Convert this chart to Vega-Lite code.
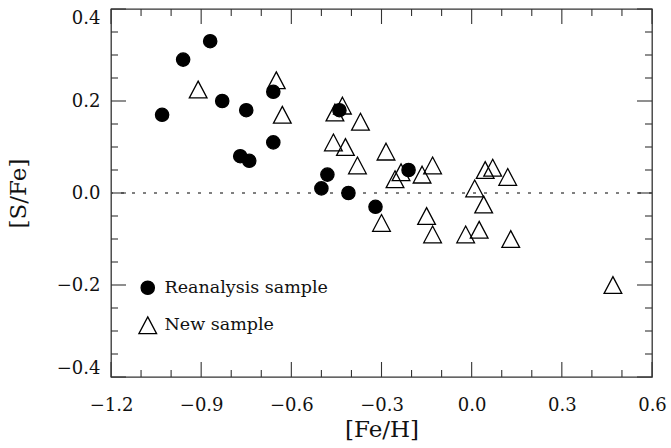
{
  "$schema": "https://vega.github.io/schema/vega-lite/v6.json",
  "width": 541,
  "height": 368,
  "autosize": "none",
  "padding": {"left": 111, "top": 9, "right": 19, "bottom": 71},
  "background": "white",
  "config": {
    "font": "DejaVu Serif",
    "view": {"stroke": "#333", "strokeWidth": 1.3},
    "axis": {
      "grid": false,
      "domain": false,
      "ticks": false,
      "tickSize": 0,
      "labelFont": "DejaVu Serif",
      "titleFont": "DejaVu Serif",
      "labelColor": "#111",
      "titleColor": "#111",
      "titleFontWeight": "normal",
      "labelFontSize": 18,
      "titleFontSize": 23
    },
    "legend": {
      "orient": "none",
      "legendX": 28,
      "legendY": 270,
      "padding": 0,
      "labelFont": "DejaVu Serif",
      "labelFontSize": 17.5,
      "labelColor": "#111",
      "labelLimit": 400,
      "symbolSize": 177,
      "symbolStrokeWidth": 1.3,
      "symbolStrokeColor": "black",
      "rowPadding": 15.5,
      "labelOffset": 8
    }
  },
  "datasets": {
    "pts": [
      {"feh": -0.91, "sfe": 0.225, "sample": "New sample"},
      {"feh": -0.65, "sfe": 0.245, "sample": "New sample"},
      {"feh": -0.63, "sfe": 0.17, "sample": "New sample"},
      {"feh": -0.43, "sfe": 0.19, "sample": "New sample"},
      {"feh": -0.455, "sfe": 0.175, "sample": "New sample"},
      {"feh": -0.37, "sfe": 0.155, "sample": "New sample"},
      {"feh": -0.46, "sfe": 0.11, "sample": "New sample"},
      {"feh": -0.42, "sfe": 0.1, "sample": "New sample"},
      {"feh": -0.38, "sfe": 0.06, "sample": "New sample"},
      {"feh": -0.285, "sfe": 0.09, "sample": "New sample"},
      {"feh": -0.235, "sfe": 0.045, "sample": "New sample"},
      {"feh": -0.255, "sfe": 0.03, "sample": "New sample"},
      {"feh": -0.13, "sfe": 0.06, "sample": "New sample"},
      {"feh": -0.165, "sfe": 0.04, "sample": "New sample"},
      {"feh": 0.045, "sfe": 0.05, "sample": "New sample"},
      {"feh": 0.07, "sfe": 0.055, "sample": "New sample"},
      {"feh": 0.12, "sfe": 0.035, "sample": "New sample"},
      {"feh": 0.01, "sfe": 0.01, "sample": "New sample"},
      {"feh": 0.04, "sfe": -0.025, "sample": "New sample"},
      {"feh": -0.3, "sfe": -0.065, "sample": "New sample"},
      {"feh": -0.15, "sfe": -0.05, "sample": "New sample"},
      {"feh": -0.13, "sfe": -0.09, "sample": "New sample"},
      {"feh": -0.02, "sfe": -0.09, "sample": "New sample"},
      {"feh": 0.025, "sfe": -0.08, "sample": "New sample"},
      {"feh": 0.13, "sfe": -0.1, "sample": "New sample"},
      {"feh": 0.47, "sfe": -0.2, "sample": "New sample"},
      {"feh": -0.87, "sfe": 0.33, "sample": "Reanalysis sample"},
      {"feh": -0.96, "sfe": 0.29, "sample": "Reanalysis sample"},
      {"feh": -1.03, "sfe": 0.17, "sample": "Reanalysis sample"},
      {"feh": -0.83, "sfe": 0.2, "sample": "Reanalysis sample"},
      {"feh": -0.75, "sfe": 0.18, "sample": "Reanalysis sample"},
      {"feh": -0.77, "sfe": 0.08, "sample": "Reanalysis sample"},
      {"feh": -0.74, "sfe": 0.07, "sample": "Reanalysis sample"},
      {"feh": -0.66, "sfe": 0.22, "sample": "Reanalysis sample"},
      {"feh": -0.66, "sfe": 0.11, "sample": "Reanalysis sample"},
      {"feh": -0.5, "sfe": 0.01, "sample": "Reanalysis sample"},
      {"feh": -0.48, "sfe": 0.04, "sample": "Reanalysis sample"},
      {"feh": -0.44, "sfe": 0.18, "sample": "Reanalysis sample"},
      {"feh": -0.41, "sfe": 0.0, "sample": "Reanalysis sample"},
      {"feh": -0.32, "sfe": -0.03, "sample": "Reanalysis sample"},
      {"feh": -0.21, "sfe": 0.05, "sample": "Reanalysis sample"}
    ],
    "xmajor": [{"v": -1.2}, {"v": -0.9}, {"v": -0.6}, {"v": -0.3}, {"v": 0.0}, {"v": 0.3}, {"v": 0.6}],
    "xminor": [{"v": -1.1}, {"v": -1.0}, {"v": -0.8}, {"v": -0.7}, {"v": -0.5}, {"v": -0.4}, {"v": -0.2}, {"v": -0.1}, {"v": 0.1}, {"v": 0.2}, {"v": 0.4}, {"v": 0.5}],
    "ymajor": [{"v": -0.4}, {"v": -0.2}, {"v": 0.0}, {"v": 0.2}, {"v": 0.4}],
    "yminor": [{"v": -0.35}, {"v": -0.3}, {"v": -0.25}, {"v": -0.15}, {"v": -0.1}, {"v": -0.05}, {"v": 0.05}, {"v": 0.1}, {"v": 0.15}, {"v": 0.25}, {"v": 0.3}, {"v": 0.35}]
  },
  "data": {"name": "pts"},
  "layer": [
    {
      "data": {"values": [{"ref": 0}]},
      "mark": {"type": "rule", "strokeDash": [3, 8], "color": "#555", "strokeWidth": 1.4},
      "encoding": {
        "y": {
          "field": "ref",
          "type": "quantitative",
          "title": "[S/Fe]",
          "scale": {"domain": [-0.4, 0.4], "nice": false, "zero": false},
          "axis": {"orient": "left", "values": [-0.4, -0.2, 0, 0.2, 0.4], "format": ".1f", "labelPadding": 11, "labelFlush": true, "labelFlushOffset": 0, "title": "[S/Fe]", "titlePadding": 26}
        }
      }
    },
    {
      "data": {"name": "xmajor"},
      "mark": {"type": "rule", "color": "#333", "strokeWidth": 1.1},
      "encoding": {
        "x": {"field": "v", "type": "quantitative", "title": "[Fe/H]",
          "axis": {"orient": "bottom", "values": [-1.2, -0.9, -0.6, -0.3, 0, 0.3, 0.6], "format": ".1f", "labelFlush": false, "labelPadding": 19, "title": "[Fe/H]", "titlePadding": 4}},
        "y": {"datum": -0.4, "type": "quantitative", "title": "[S/Fe]",
          "axis": {"orient": "left", "values": [-0.4, -0.2, 0, 0.2, 0.4], "format": ".1f", "labelPadding": 11, "labelFlush": true, "labelFlushOffset": 0, "title": "[S/Fe]", "titlePadding": 26}},
        "y2": {"datum": -0.3674}
      }
    },
    {
      "data": {"name": "xmajor"},
      "mark": {"type": "rule", "color": "#333", "strokeWidth": 1.1},
      "encoding": {
        "x": {"field": "v", "type": "quantitative", "title": "[Fe/H]",
          "axis": {"orient": "bottom", "values": [-1.2, -0.9, -0.6, -0.3, 0, 0.3, 0.6], "format": ".1f", "labelFlush": false, "labelPadding": 19, "title": "[Fe/H]", "titlePadding": 4}},
        "y": {"datum": 0.4, "type": "quantitative", "title": "[S/Fe]",
          "axis": {"orient": "left", "values": [-0.4, -0.2, 0, 0.2, 0.4], "format": ".1f", "labelPadding": 11, "labelFlush": true, "labelFlushOffset": 0, "title": "[S/Fe]", "titlePadding": 26}},
        "y2": {"datum": 0.3674}
      }
    },
    {
      "data": {"name": "xminor"},
      "mark": {"type": "rule", "color": "#333", "strokeWidth": 1.1},
      "encoding": {
        "x": {"field": "v", "type": "quantitative", "title": "[Fe/H]",
          "axis": {"orient": "bottom", "values": [-1.2, -0.9, -0.6, -0.3, 0, 0.3, 0.6], "format": ".1f", "labelFlush": false, "labelPadding": 19, "title": "[Fe/H]", "titlePadding": 4}},
        "y": {"datum": -0.4, "type": "quantitative", "title": "[S/Fe]",
          "axis": {"orient": "left", "values": [-0.4, -0.2, 0, 0.2, 0.4], "format": ".1f", "labelPadding": 11, "labelFlush": true, "labelFlushOffset": 0, "title": "[S/Fe]", "titlePadding": 26}},
        "y2": {"datum": -0.3848}
      }
    },
    {
      "data": {"name": "xminor"},
      "mark": {"type": "rule", "color": "#333", "strokeWidth": 1.1},
      "encoding": {
        "x": {"field": "v", "type": "quantitative", "title": "[Fe/H]",
          "axis": {"orient": "bottom", "values": [-1.2, -0.9, -0.6, -0.3, 0, 0.3, 0.6], "format": ".1f", "labelFlush": false, "labelPadding": 19, "title": "[Fe/H]", "titlePadding": 4}},
        "y": {"datum": 0.4, "type": "quantitative", "title": "[S/Fe]",
          "axis": {"orient": "left", "values": [-0.4, -0.2, 0, 0.2, 0.4], "format": ".1f", "labelPadding": 11, "labelFlush": true, "labelFlushOffset": 0, "title": "[S/Fe]", "titlePadding": 26}},
        "y2": {"datum": 0.3848}
      }
    },
    {
      "data": {"name": "ymajor"},
      "mark": {"type": "rule", "color": "#333", "strokeWidth": 1.1},
      "encoding": {
        "y": {"field": "v", "type": "quantitative", "title": "[S/Fe]",
          "axis": {"orient": "left", "values": [-0.4, -0.2, 0, 0.2, 0.4], "format": ".1f", "labelPadding": 11, "labelFlush": true, "labelFlushOffset": 0, "title": "[S/Fe]", "titlePadding": 26}},
        "x": {"datum": -1.2, "type": "quantitative", "title": "[Fe/H]",
          "axis": {"orient": "bottom", "values": [-1.2, -0.9, -0.6, -0.3, 0, 0.3, 0.6], "format": ".1f", "labelFlush": false, "labelPadding": 19, "title": "[Fe/H]", "titlePadding": 4}},
        "x2": {"datum": -1.1501}
      }
    },
    {
      "data": {"name": "ymajor"},
      "mark": {"type": "rule", "color": "#333", "strokeWidth": 1.1},
      "encoding": {
        "y": {"field": "v", "type": "quantitative", "title": "[S/Fe]",
          "axis": {"orient": "left", "values": [-0.4, -0.2, 0, 0.2, 0.4], "format": ".1f", "labelPadding": 11, "labelFlush": true, "labelFlushOffset": 0, "title": "[S/Fe]", "titlePadding": 26}},
        "x": {"datum": 0.6, "type": "quantitative", "title": "[Fe/H]",
          "axis": {"orient": "bottom", "values": [-1.2, -0.9, -0.6, -0.3, 0, 0.3, 0.6], "format": ".1f", "labelFlush": false, "labelPadding": 19, "title": "[Fe/H]", "titlePadding": 4}},
        "x2": {"datum": 0.5501}
      }
    },
    {
      "data": {"name": "yminor"},
      "mark": {"type": "rule", "color": "#333", "strokeWidth": 1.1},
      "encoding": {
        "y": {"field": "v", "type": "quantitative", "title": "[S/Fe]",
          "axis": {"orient": "left", "values": [-0.4, -0.2, 0, 0.2, 0.4], "format": ".1f", "labelPadding": 11, "labelFlush": true, "labelFlushOffset": 0, "title": "[S/Fe]", "titlePadding": 26}},
        "x": {"datum": -1.2, "type": "quantitative", "title": "[Fe/H]",
          "axis": {"orient": "bottom", "values": [-1.2, -0.9, -0.6, -0.3, 0, 0.3, 0.6], "format": ".1f", "labelFlush": false, "labelPadding": 19, "title": "[Fe/H]", "titlePadding": 4}},
        "x2": {"datum": -1.1767}
      }
    },
    {
      "data": {"name": "yminor"},
      "mark": {"type": "rule", "color": "#333", "strokeWidth": 1.1},
      "encoding": {
        "y": {"field": "v", "type": "quantitative", "title": "[S/Fe]",
          "axis": {"orient": "left", "values": [-0.4, -0.2, 0, 0.2, 0.4], "format": ".1f", "labelPadding": 11, "labelFlush": true, "labelFlushOffset": 0, "title": "[S/Fe]", "titlePadding": 26}},
        "x": {"datum": 0.6, "type": "quantitative", "title": "[Fe/H]",
          "axis": {"orient": "bottom", "values": [-1.2, -0.9, -0.6, -0.3, 0, 0.3, 0.6], "format": ".1f", "labelFlush": false, "labelPadding": 19, "title": "[Fe/H]", "titlePadding": 4}},
        "x2": {"datum": 0.5767}
      }
    },
    {
      "mark": {"type": "point", "strokeWidth": 1.3, "opacity": 1, "size": 177},
      "encoding": {
        "x": {
          "field": "feh",
          "type": "quantitative",
          "title": "[Fe/H]",
          "scale": {"domain": [-1.2, 0.6], "nice": false, "zero": false},
          "axis": {"orient": "bottom", "values": [-1.2, -0.9, -0.6, -0.3, 0, 0.3, 0.6], "format": ".1f", "labelFlush": false, "labelPadding": 19, "title": "[Fe/H]", "titlePadding": 4}
        },
        "y": {
          "field": "sfe",
          "type": "quantitative",
          "title": "[S/Fe]",
          "scale": {"domain": [-0.4, 0.4], "nice": false, "zero": false},
          "axis": {"orient": "left", "values": [-0.4, -0.2, 0, 0.2, 0.4], "format": ".1f", "labelPadding": 11, "labelFlush": true, "labelFlushOffset": 0, "title": "[S/Fe]", "titlePadding": 26}
        },
        "shape": {
          "field": "sample",
          "type": "nominal",
          "scale": {"domain": ["Reanalysis sample", "New sample"], "range": ["circle", "M0,-1.26L1.33,1.26L-1.33,1.26Z"]},
          "legend": {"title": null}
        },
        "fill": {
          "field": "sample",
          "type": "nominal",
          "scale": {"domain": ["Reanalysis sample", "New sample"], "range": ["black", "transparent"]},
          "legend": {"title": null}
        },
        "stroke": {
          "field": "sample",
          "type": "nominal",
          "scale": {"domain": ["Reanalysis sample", "New sample"], "range": ["black", "black"]},
          "legend": {"title": null}
        }
      }
    }
  ]
}
